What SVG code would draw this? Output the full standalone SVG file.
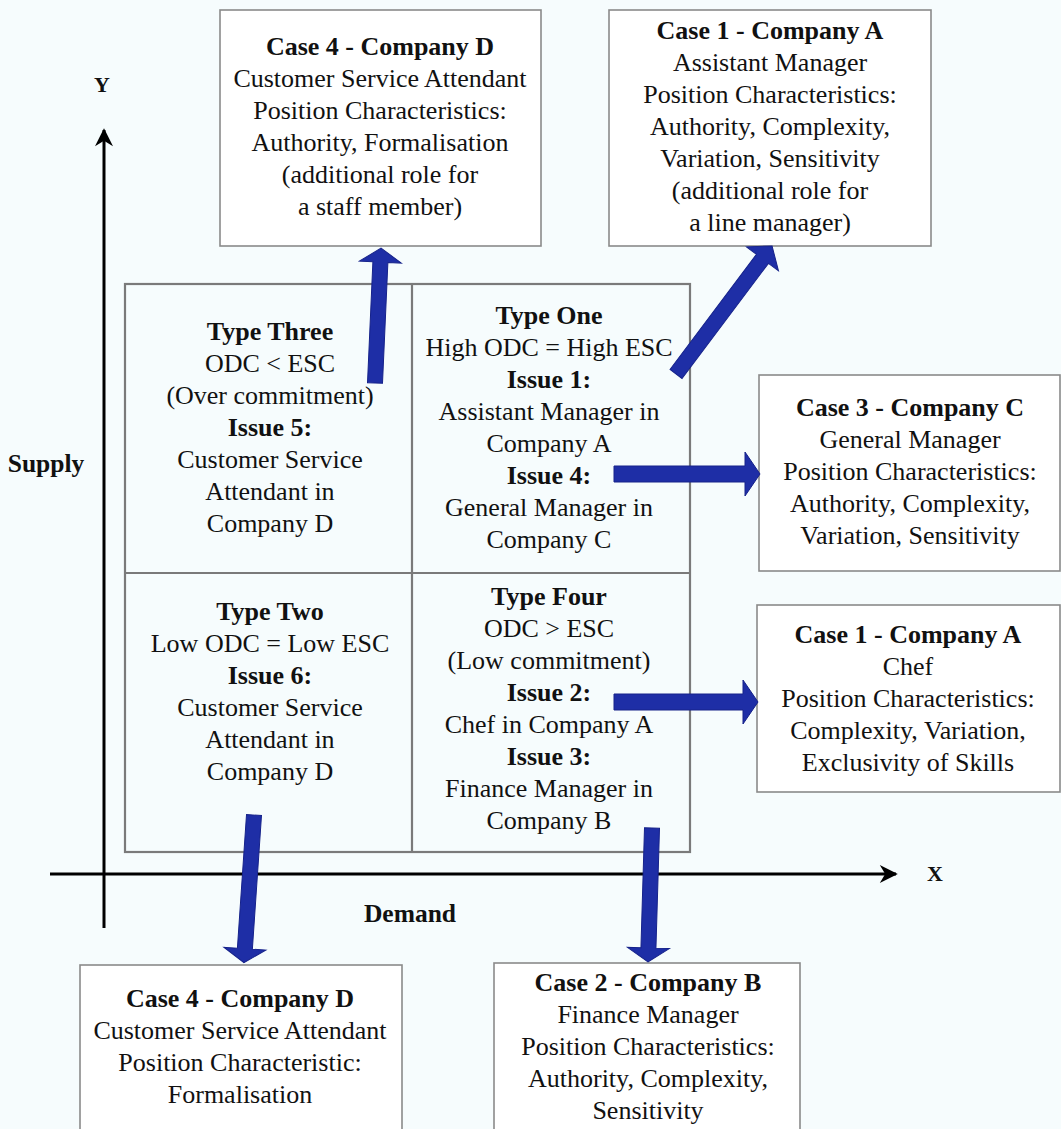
<svg xmlns="http://www.w3.org/2000/svg" width="1061" height="1129" viewBox="0 0 1061 1129">
  <style>
    text { font-family: "Liberation Serif", "Times New Roman", serif; font-size: 26px; fill: #111; text-anchor: middle; }
    .b { font-weight: bold; }
    .lbl { font-weight: bold; font-size: 25.5px; }
    .axl { font-weight: bold; font-size: 22px; }
    .box { fill: #ffffff; stroke: #8a8a8a; stroke-width: 1.6; }
    .grid { fill: none; stroke: #7a7a7a; stroke-width: 2.2; }
    .axis { stroke: #000; stroke-width: 3; fill: none; }
    .blue { fill: #1e2ea6; stroke: #16228a; stroke-width: 1; }
  </style>
  <defs>
    <marker id="ah" viewBox="0 0 10 10" refX="9" refY="5" markerWidth="7" markerHeight="6" markerUnits="strokeWidth" orient="auto">
      <path d="M0,0 L10,5 L0,10 L3,5 Z" fill="#000"/>
    </marker>
  </defs>
  <rect width="1061" height="1129" fill="#f6fcfd"/>

  <!-- axes -->
  <g id="axes">
    <line class="axis" x1="104" y1="928" x2="104" y2="130" marker-end="url(#ah)"/>
    <line class="axis" x1="50" y1="874" x2="896" y2="874" marker-end="url(#ah)"/>
    <text class="axl" x="102" y="92">Y</text>
    <text class="axl" x="935" y="881">X</text>
    <text class="lbl" x="46" y="472">Supply</text>
    <text class="lbl" x="410" y="922">Demand</text>
  </g>

  <!-- four-quadrant matrix -->
  <g id="matrix">
    <rect class="grid" x="125" y="284" width="565" height="568"/>
    <line class="grid" x1="412" y1="284" x2="412" y2="852"/>
    <line class="grid" x1="125" y1="573" x2="690" y2="573"/>
  </g>

  <g id="type-three">
    <text class="b" x="270" y="340">Type Three</text>
    <text x="270" y="372">ODC &lt; ESC</text>
    <text x="270" y="404">(Over commitment)</text>
    <text class="b" x="270" y="436">Issue 5:</text>
    <text x="270" y="468">Customer Service</text>
    <text x="270" y="500">Attendant in</text>
    <text x="270" y="532">Company D</text>
  </g>

  <g id="type-one">
    <text class="b" x="549" y="324">Type One</text>
    <text x="549" y="356">High ODC = High ESC</text>
    <text class="b" x="549" y="388">Issue 1:</text>
    <text x="549" y="420">Assistant Manager in</text>
    <text x="549" y="452">Company A</text>
    <text class="b" x="549" y="484">Issue 4:</text>
    <text x="549" y="516">General Manager in</text>
    <text x="549" y="548">Company C</text>
  </g>

  <g id="type-two">
    <text class="b" x="270" y="620">Type Two</text>
    <text x="270" y="652">Low ODC = Low ESC</text>
    <text class="b" x="270" y="684">Issue 6:</text>
    <text x="270" y="716">Customer Service</text>
    <text x="270" y="748">Attendant in</text>
    <text x="270" y="780">Company D</text>
  </g>

  <g id="type-four">
    <text class="b" x="549" y="605">Type Four</text>
    <text x="549" y="637">ODC &gt; ESC</text>
    <text x="549" y="669">(Low commitment)</text>
    <text class="b" x="549" y="701">Issue 2:</text>
    <text x="549" y="733">Chef in Company A</text>
    <text class="b" x="549" y="765">Issue 3:</text>
    <text x="549" y="797">Finance Manager in</text>
    <text x="549" y="829">Company B</text>
  </g>

  <!-- case boxes -->
  <g id="case4-top">
    <rect class="box" x="220" y="10" width="321" height="236"/>
    <text class="b" x="380" y="55">Case 4 - Company D</text>
    <text x="380" y="87">Customer Service Attendant</text>
    <text x="380" y="119">Position Characteristics:</text>
    <text x="380" y="151">Authority, Formalisation</text>
    <text x="380" y="183">(additional role for</text>
    <text x="380" y="215">a staff member)</text>
  </g>

  <g id="case1-top">
    <rect class="box" x="609" y="10" width="322" height="236"/>
    <text class="b" x="770" y="39">Case 1 - Company A</text>
    <text x="770" y="71">Assistant Manager</text>
    <text x="770" y="103">Position Characteristics:</text>
    <text x="770" y="135">Authority, Complexity,</text>
    <text x="770" y="167">Variation, Sensitivity</text>
    <text x="770" y="199">(additional role for</text>
    <text x="770" y="231">a line manager)</text>
  </g>

  <g id="case3">
    <rect class="box" x="759" y="375" width="301" height="196"/>
    <text class="b" x="910" y="416">Case 3 - Company C</text>
    <text x="910" y="448">General Manager</text>
    <text x="910" y="480">Position Characteristics:</text>
    <text x="910" y="512">Authority, Complexity,</text>
    <text x="910" y="544">Variation, Sensitivity</text>
  </g>

  <g id="case1-chef">
    <rect class="box" x="757" y="605" width="303" height="187"/>
    <text class="b" x="908" y="643">Case 1 - Company A</text>
    <text x="908" y="675">Chef</text>
    <text x="908" y="707">Position Characteristics:</text>
    <text x="908" y="739">Complexity, Variation,</text>
    <text x="908" y="771">Exclusivity of Skills</text>
  </g>

  <g id="case4-bottom">
    <rect class="box" x="80" y="965" width="322" height="170"/>
    <text class="b" x="240" y="1007">Case 4 - Company D</text>
    <text x="240" y="1039">Customer Service Attendant</text>
    <text x="240" y="1071">Position Characteristic:</text>
    <text x="240" y="1103">Formalisation</text>
  </g>

  <g id="case2">
    <rect class="box" x="494" y="963" width="306" height="170"/>
    <text class="b" x="648" y="991">Case 2 - Company B</text>
    <text x="648" y="1023">Finance Manager</text>
    <text x="648" y="1055">Position Characteristics:</text>
    <text x="648" y="1087">Authority, Complexity,</text>
    <text x="648" y="1119">Sensitivity</text>
  </g>

  <!-- block arrows from quadrants to cases -->
  <g id="connectors">
    <path class="blue" transform="translate(375,383) rotate(-87.45)" d="M0,-7.5 L121,-7.5 L121,-21 L135,0 L121,21 L121,7.5 L0,7.5 Z"/>
    <path class="blue" transform="translate(676,374) rotate(-53.1)" d="M0,-7.5 L144,-7.5 L144,-20 L160,0 L144,20 L144,7.5 L0,7.5 Z"/>
    <path class="blue" transform="translate(614,474)" d="M0,-8 L131,-8 L131,-22 L146,0 L131,22 L131,8 L0,8 Z"/>
    <path class="blue" transform="translate(614,702)" d="M0,-8 L129,-8 L129,-22 L144,0 L129,22 L129,8 L0,8 Z"/>
    <path class="blue" transform="translate(254,815) rotate(93.9)" d="M0,-7.5 L134,-7.5 L134,-21 L148,0 L134,21 L134,7.5 L0,7.5 Z"/>
    <path class="blue" transform="translate(652,828) rotate(91.7)" d="M0,-7.5 L120,-7.5 L120,-21 L134,0 L120,21 L120,7.5 L0,7.5 Z"/>
  </g>
</svg>
